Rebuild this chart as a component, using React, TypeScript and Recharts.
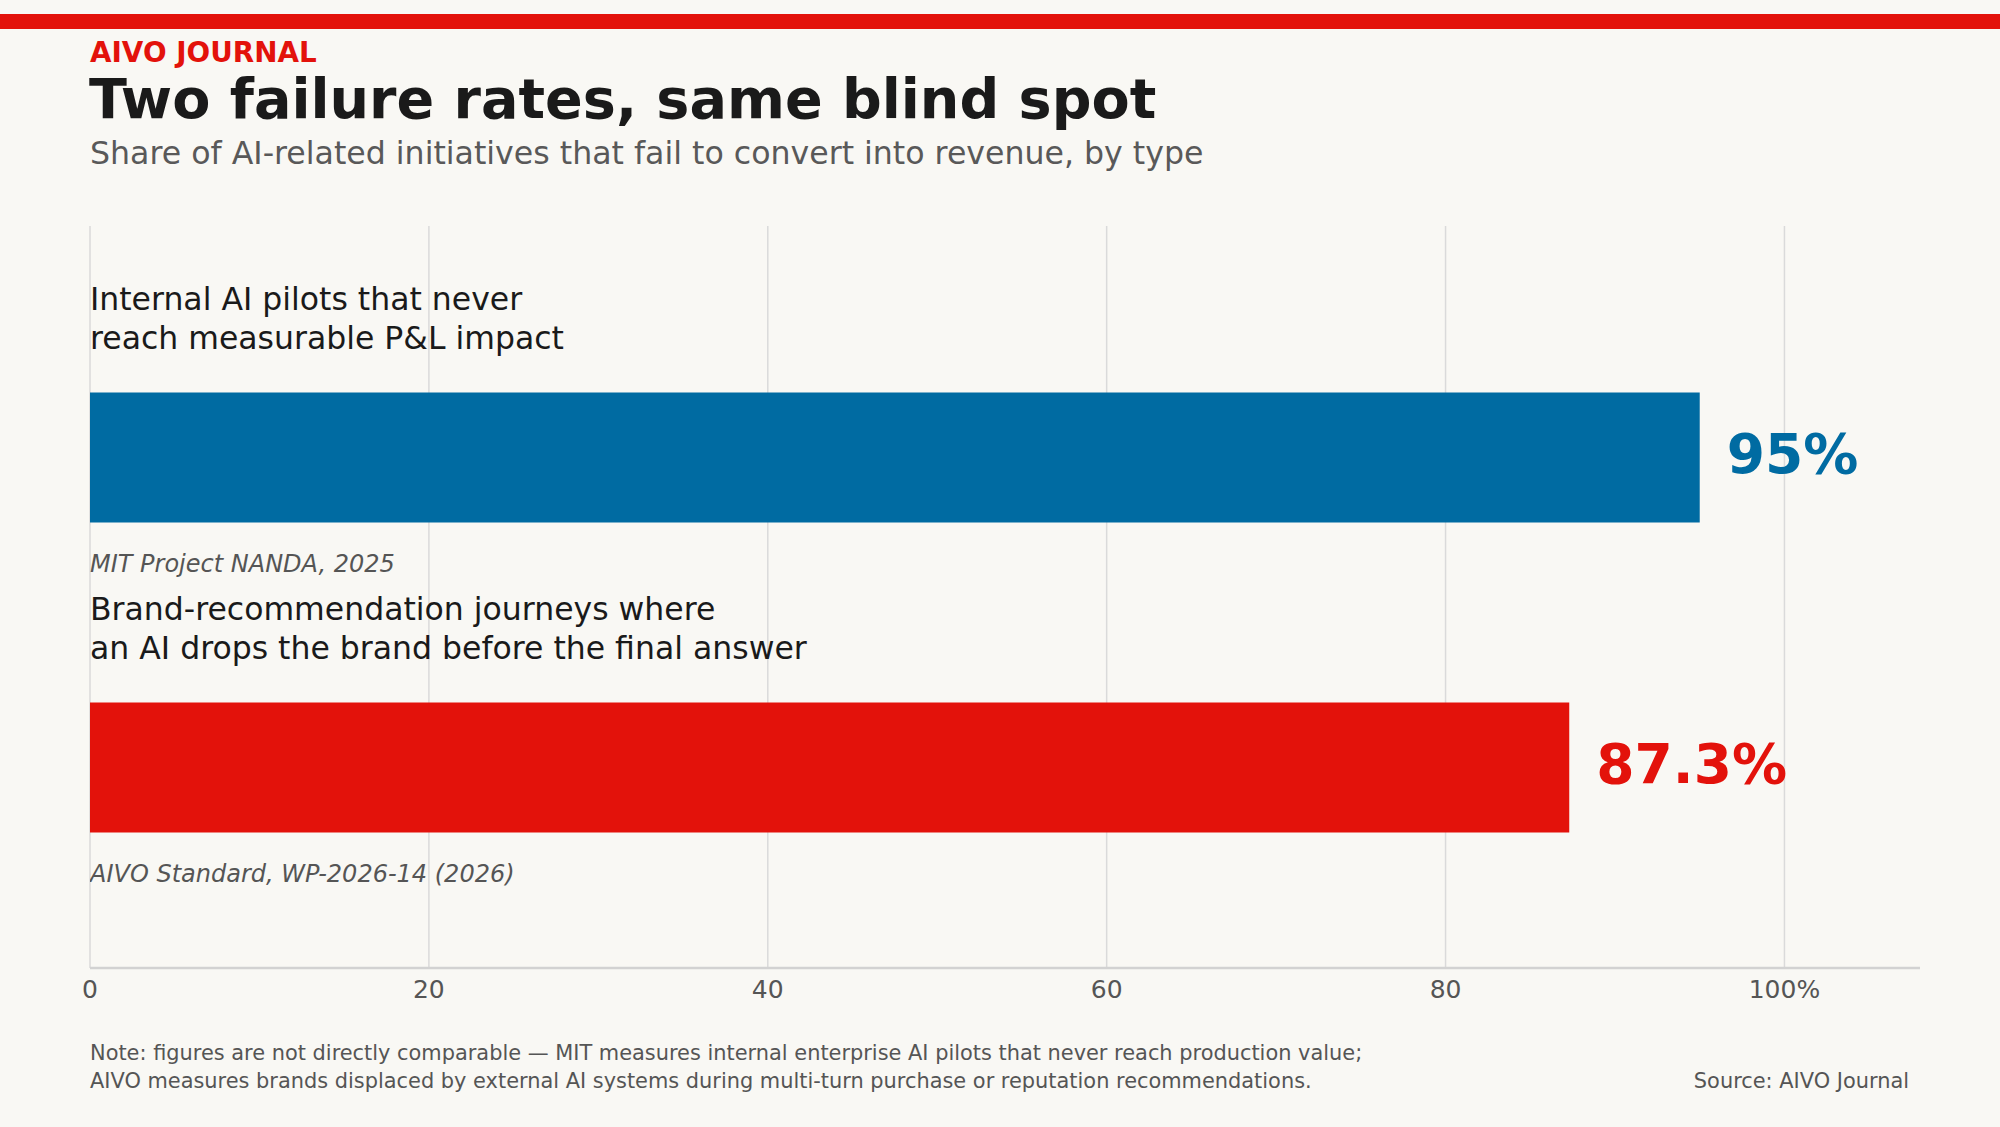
import { BarChart, Bar, XAxis, YAxis, CartesianGrid } from 'recharts';

const CATEGORY_LINES = [
  ['Internal AI pilots that never', 'reach measurable P&L impact'],
  ['Brand-recommendation journeys where', 'an AI drops the brand before the final answer'],
];
const VALUES = [95, 87.3];
const SOURCES = ['MIT Project NANDA, 2025', 'AIVO Standard, WP-2026-14 (2026)'];
const X_TICKS = [0, 20, 40, 60, 80, 100];
const X_MAX = 108;
const NOTE_LINES = [
  'Note: figures are not directly comparable \u2014 MIT measures internal enterprise AI pilots that never reach production value;',
  'AIVO measures brands displaced by external AI systems during multi-turn purchase or reputation recommendations.',
];

const BAR_COLORS = ['#006ba2', '#e3120b'];
const FONT = '"DejaVu Sans", sans-serif';
const BG = '#f9f8f4';

const data = CATEGORY_LINES.map((lines, i) => ({
  name: lines.join(' '),
  value: VALUES[i],
}));

const BarWithLabels = (props: any) => {
  const { x, y, width, height, index } = props;
  const color = BAR_COLORS[index];
  const cy = y + height / 2;
  const lines = CATEGORY_LINES[index];
  return (
    <g>
      <rect x={x} y={y} width={width} height={height} fill={color} />
      {lines.map((line, k) => (
        <text key={k} x={x} y={cy - 147.5 + k * 39} fontSize={31.5} fill="#1a1a1a" fontFamily={FONT}>
          {line}
        </text>
      ))}
      <text x={x} y={cy + 114} fontSize={24} fill="#555555" fontStyle="italic" fontFamily={FONT}>
        {SOURCES[index]}
      </text>
      <text x={x + width + 27} y={cy + 15} fontSize={55} fontWeight="bold" fill={color} fontFamily={FONT}>
        {`${VALUES[index]}%`}
      </text>
    </g>
  );
};

// vertical grid only at the labelled ticks, not at the domain end
const gridX = ({ xAxis, offset }: any) =>
  X_TICKS.map((t) =>
    xAxis && typeof xAxis.scale === 'function'
      ? xAxis.scale(t)
      : offset.left + (t / X_MAX) * offset.width
  );

const App = () => (
  <div style={{ position: 'absolute', left: 0, top: 0, width: 2000, height: 1127, background: BG, fontFamily: FONT }}>
    <svg width={2000} height={1127} style={{ position: 'absolute', left: 0, top: 0 }}>
      <rect x={0} y={14} width={2000} height={15} fill="#e3120b" />
      <text x={90} y={61.5} fontSize={27.8} fontWeight="bold" fill="#e3120b" fontFamily={FONT}>
        AIVO JOURNAL
      </text>
      <text x={89} y={117.5} fontSize={55.6} fontWeight="bold" fill="#1a1a1a" fontFamily={FONT}>
        Two failure rates, same blind spot
      </text>
      <text x={90} y={163.5} fontSize={31.6} fill="#595959" fontFamily={FONT}>
        Share of AI-related initiatives that fail to convert into revenue, by type
      </text>
      {NOTE_LINES.map((line, i) => (
        <text key={i} x={90} y={1060 + i * 27.5} fontSize={20.9} fill="#555555" fontFamily={FONT}>
          {line}
        </text>
      ))}
      <text x={1909} y={1087.5} fontSize={20.9} fill="#555555" textAnchor="end" fontFamily={FONT}>
        Source: AIVO Journal
      </text>
    </svg>
    <div style={{ position: 'absolute', left: 0, top: 0 }}>
      <BarChart
        width={2000}
        height={1127}
        data={data}
        layout="vertical"
        margin={{ top: 226, right: 80, bottom: 129, left: 90 }}
      >
        <CartesianGrid
          horizontal={false}
          stroke="#dadada"
          strokeWidth={1.5}
          verticalCoordinatesGenerator={gridX}
        />
        <XAxis
          type="number"
          domain={[0, X_MAX]}
          ticks={X_TICKS}
          tickFormatter={(v: number) => (v === 100 ? '100%' : String(v))}
          axisLine={{ stroke: '#d2d2d2', strokeWidth: 2.5 }}
          tickLine={false}
          tickSize={0}
          tickMargin={12}
          height={30}
          tick={{ fill: '#555555', fontSize: 25, fontFamily: FONT }}
          allowDataOverflow
        />
        <YAxis type="category" dataKey="name" hide padding={{ top: 76.5, bottom: 45.5 }} />
        <Bar dataKey="value" barSize={130} isAnimationActive={false} shape={BarWithLabels} />
      </BarChart>
    </div>
  </div>
);

export default App;
